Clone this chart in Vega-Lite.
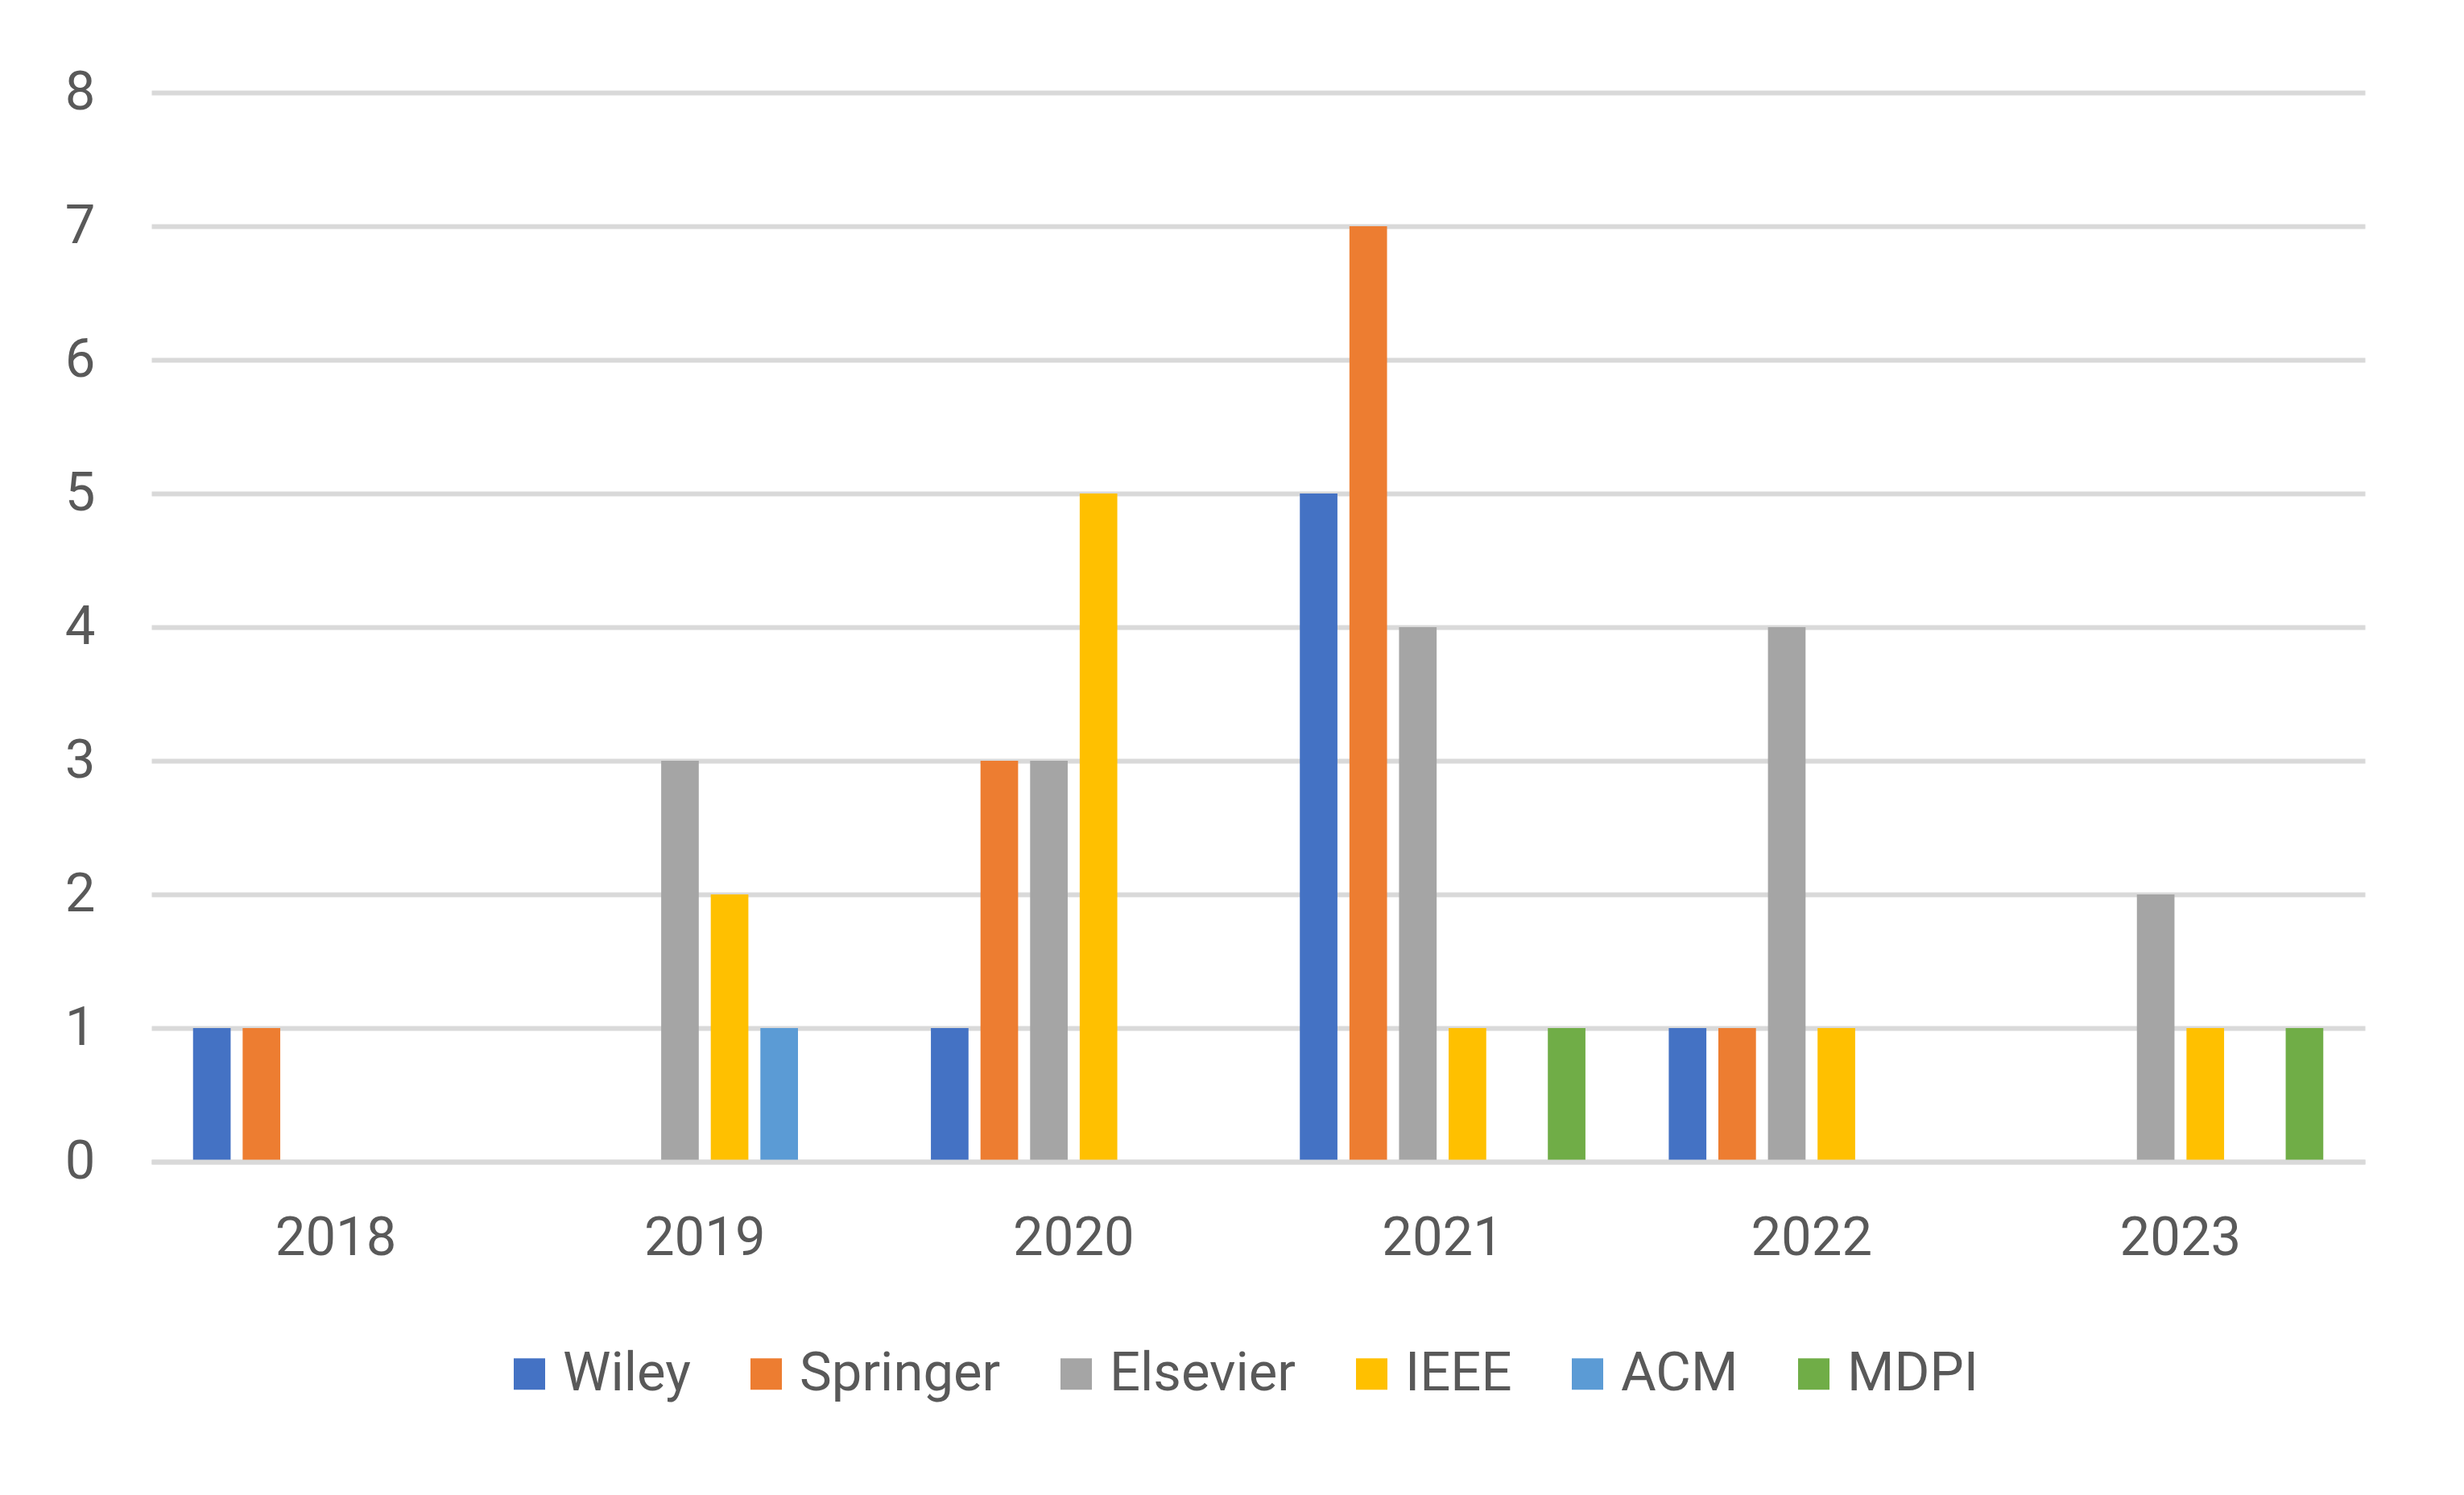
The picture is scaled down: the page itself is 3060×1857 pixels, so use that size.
{
  "$schema": "https://vega.github.io/schema/vega-lite/v6.json",
  "autosize": {"type": "none"},
  "width": 2749,
  "height": 1328,
  "padding": {"left": 188, "top": 115, "right": 123, "bottom": 414},
  "background": "#ffffff",
  "config": {
    "view": {"stroke": null},
    "font": "Roboto",
    "axis": {"labelFont": "Roboto", "labelColor": "#595959", "labelFontSize": 67},
    "legend": {"labelFont": "Roboto", "labelColor": "#595959", "labelFontSize": 67, "labelLimit": 1000}
  },
  "data": {
    "values": [
      {"year": "2018", "publisher": "Wiley", "count": 1},
      {"year": "2018", "publisher": "Springer", "count": 1},
      {"year": "2019", "publisher": "Elsevier", "count": 3},
      {"year": "2019", "publisher": "IEEE", "count": 2},
      {"year": "2019", "publisher": "ACM", "count": 1},
      {"year": "2020", "publisher": "Wiley", "count": 1},
      {"year": "2020", "publisher": "Springer", "count": 3},
      {"year": "2020", "publisher": "Elsevier", "count": 3},
      {"year": "2020", "publisher": "IEEE", "count": 5},
      {"year": "2021", "publisher": "Wiley", "count": 5},
      {"year": "2021", "publisher": "Springer", "count": 7},
      {"year": "2021", "publisher": "Elsevier", "count": 4},
      {"year": "2021", "publisher": "IEEE", "count": 1},
      {"year": "2021", "publisher": "MDPI", "count": 1},
      {"year": "2022", "publisher": "Wiley", "count": 1},
      {"year": "2022", "publisher": "Springer", "count": 1},
      {"year": "2022", "publisher": "Elsevier", "count": 4},
      {"year": "2022", "publisher": "IEEE", "count": 1},
      {"year": "2023", "publisher": "Elsevier", "count": 2},
      {"year": "2023", "publisher": "IEEE", "count": 1},
      {"year": "2023", "publisher": "MDPI", "count": 1}
    ]
  },
  "mark": {"type": "bar"},
  "encoding": {
    "x": {
      "field": "year",
      "type": "nominal",
      "sort": ["2018", "2019", "2020", "2021", "2022", "2023"],
      "scale": {"paddingInner": 0, "paddingOuter": 0},
      "axis": {
        "title": null,
        "labelAngle": 0,
        "ticks": false,
        "domain": true,
        "domainColor": "#D9D9D9",
        "domainWidth": 6,
        "labelPadding": 62,
        "zindex": 1
      }
    },
    "xOffset": {
      "field": "publisher",
      "type": "nominal",
      "scale": {
        "domain": ["Wiley", "Springer", "Elsevier", "IEEE", "ACM", "MDPI"],
        "paddingInner": 0.242,
        "paddingOuter": 0.84
      }
    },
    "y": {
      "field": "count",
      "type": "quantitative",
      "scale": {"domain": [0, 8], "nice": false},
      "axis": {
        "title": null,
        "values": [0, 1, 2, 3, 4, 5, 6, 7, 8],
        "grid": true,
        "gridColor": "#D9D9D9",
        "gridWidth": 6,
        "domain": false,
        "ticks": false,
        "labelPadding": 70,
        "zindex": 0
      }
    },
    "color": {
      "field": "publisher",
      "type": "nominal",
      "scale": {
        "domain": ["Wiley", "Springer", "Elsevier", "IEEE", "ACM", "MDPI"],
        "range": ["#4472C4", "#ED7D31", "#A5A5A5", "#FFC000", "#5B9BD5", "#70AD47"]
      },
      "legend": {
        "title": null,
        "orient": "none",
        "direction": "horizontal",
        "legendX": 436,
        "legendY": 1558,
        "symbolType": "square",
        "symbolSize": 1521,
        "symbolStrokeWidth": 0,
        "labelOffset": 8,
        "columnPadding": 60
      }
    }
  }
}
